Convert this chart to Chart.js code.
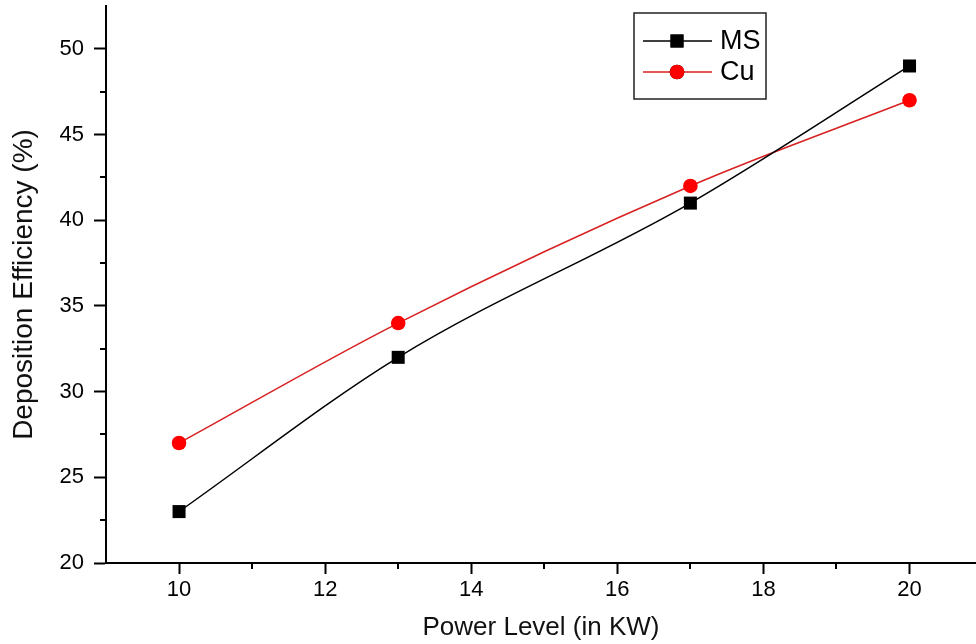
<!DOCTYPE html>
<html><head><meta charset="utf-8">
<script src="https://cdn.jsdelivr.net/npm/chart.js@4/dist/chart.umd.min.js"></script>
<style>html,body{margin:0;padding:0;background:#fff;overflow:hidden}#wrap{width:976px;height:644px}</style>
</head><body><div id="wrap"><canvas id="c" width="976" height="644"></canvas></div>
<script>
// ---- data ----
const powerLevels = [10, 13, 17, 20];
const msValues = [23, 32, 41, 49];
const cuValues = [27, 34, 42, 47];
const seriesNames = ['MS', 'Cu'];
const xMajorTicks = [10, 12, 14, 16, 18, 20];
const xMinorTicks = [11, 13, 15, 17, 19];
const yMajorTicks = [20, 25, 30, 35, 40, 45, 50];
const yMinorTicks = [22.5, 27.5, 32.5, 37.5, 42.5, 47.5];
const xTitle = 'Power Level (in KW)';
const yTitle = 'Deposition Efficiency (%)';

const FONT = "'Liberation Sans', Arial, sans-serif";

const minorTicksPlugin = {
  id: 'minorTicks',
  afterDraw(chart) {
    const ctx = chart.ctx;
    const xs = chart.scales.x, ys = chart.scales.y;
    const area = chart.chartArea;
    ctx.save();
    ctx.strokeStyle = '#000';
    ctx.lineWidth = 2;
    ctx.beginPath();
    xMinorTicks.forEach(v => {
      const px = Math.round(xs.getPixelForValue(v));
      ctx.moveTo(px, area.bottom);
      ctx.lineTo(px, area.bottom + 6);
    });
    yMinorTicks.forEach(v => {
      const py = Math.round(ys.getPixelForValue(v));
      ctx.moveTo(area.left, py);
      ctx.lineTo(area.left - 6, py);
    });
    ctx.stroke();
    ctx.restore();
  }
};

const boxLegendPlugin = {
  id: 'boxLegend',
  afterDraw(chart) {
    const ctx = chart.ctx;
    const area = chart.chartArea;
    const x0 = area.left + 528, y0 = area.top + 7, w = 132, h = 86;
    ctx.save();
    ctx.strokeStyle = '#222';
    ctx.lineWidth = 1.5;
    ctx.strokeRect(x0, y0, w, h);
    chart.data.datasets.forEach((ds, i) => {
      const y = y0 + 28 + i * 31;
      ctx.strokeStyle = ds.borderColor;
      ctx.lineWidth = 1.4;
      ctx.beginPath();
      ctx.moveTo(x0 + 9, y);
      ctx.lineTo(x0 + 78, y);
      ctx.stroke();
      Chart.helpers.drawPoint(ctx, {
        pointStyle: ds.pointStyle, radius: ds.pointRadius, borderWidth: 0
      }, x0 + 43, y);
      ctx.fillStyle = ds.pointBackgroundColor;
      ctx.fill();
      ctx.fillStyle = '#000';
      ctx.font = '27px ' + FONT;
      ctx.textBaseline = 'middle';
      ctx.textAlign = 'left';
      ctx.fillText(ds.label, x0 + 86, y + 1);
    });
    ctx.restore();
  }
};

new Chart(document.getElementById('c'), {
  type: 'line',
  data: {
    datasets: [
      {
        label: seriesNames[0],
        data: powerLevels.map((x, i) => ({x, y: msValues[i]})),
        borderColor: '#000',
        borderWidth: 1.5,
        pointStyle: 'rect',
        pointRadius: 9.2,
        pointBackgroundColor: '#000',
        pointBorderColor: '#000',
        pointBorderWidth: 0,
        cubicInterpolationMode: 'monotone'
      },
      {
        label: seriesNames[1],
        data: powerLevels.map((x, i) => ({x, y: cuValues[i]})),
        borderColor: '#d82020',
        borderWidth: 1.5,
        pointStyle: 'circle',
        pointRadius: 7.3,
        pointBackgroundColor: '#ff0000',
        pointBorderColor: '#ff0000',
        pointBorderWidth: 0,
        cubicInterpolationMode: 'monotone'
      }
    ]
  },
  options: {
    responsive: false,
    devicePixelRatio: 1,
    animation: false,
    layout: { autoPadding: false, padding: { top: 6, right: 0, bottom: 0, left: 0 } },
    plugins: { legend: { display: false }, tooltip: { enabled: false } },
    elements: { line: { borderCapStyle: 'round' } },
    scales: {
      x: {
        type: 'linear',
        min: 9,
        max: 20.91,
        afterBuildTicks: s => { s.ticks = xMajorTicks.map(v => ({ value: v })); },
        afterFit: s => { s.height = 81; s.paddingLeft = 0; s.paddingRight = 0; s.paddingTop = 0; s.paddingBottom = 0; },
        grid: { drawOnChartArea: false, drawTicks: true, tickLength: 11, tickWidth: 2, tickColor: '#000' },
        border: { display: true, color: '#000', width: 2 },
        ticks: { color: '#000', font: { family: FONT, size: 22 }, padding: 3, maxRotation: 0, autoSkip: false },
        title: { display: true, text: xTitle, color: '#111', font: { family: FONT, size: 26 }, padding: { top: 0, bottom: 1 } }
      },
      y: {
        type: 'linear',
        min: 20,
        max: 52.5,
        afterBuildTicks: s => { s.ticks = yMajorTicks.map(v => ({ value: v })); },
        afterFit: s => { s.width = 106; s.paddingLeft = 0; s.paddingRight = 0; s.paddingTop = 0; s.paddingBottom = 0; },
        grid: { drawOnChartArea: false, drawTicks: true, tickLength: 12, tickWidth: 2, tickColor: '#000' },
        border: { display: true, color: '#000', width: 2 },
        ticks: { color: '#000', font: { family: FONT, size: 22 }, padding: 10 },
        title: { display: true, text: yTitle, color: '#111', font: { family: FONT, size: 28 }, padding: { top: 7, bottom: 0 } }
      }
    }
  },
  plugins: [minorTicksPlugin, boxLegendPlugin]
});
</script>
</body></html>
